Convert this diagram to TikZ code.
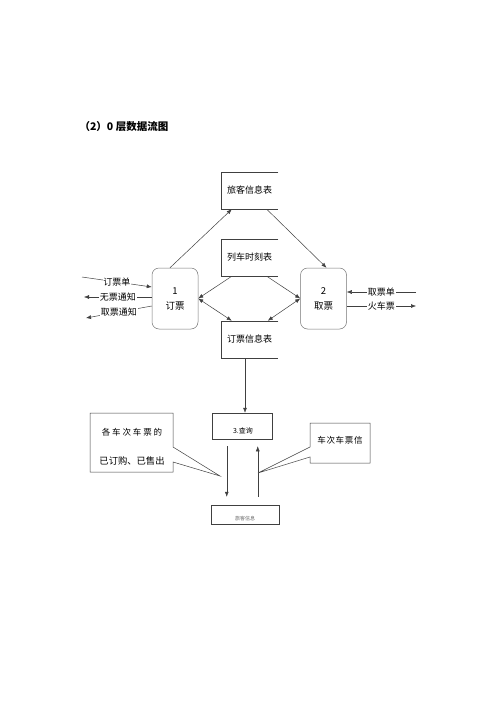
\documentclass[tikz,border=0pt]{standalone}
\usepackage{fontspec}
\newfontfamily\cjk{Noto Sans CJK SC}
\newfontfamily\cjkwide[LetterSpace=22]{Noto Sans CJK SC}
\newfontfamily\cjkmid[LetterSpace=8]{Noto Sans CJK SC}
\usetikzlibrary{arrows.meta,calc}
\begin{document}
\begin{tikzpicture}[x=1pt,y=-1pt,
  font=\cjk\fontsize{9}{11}\selectfont,
  line width=0.5pt, draw=black!75,
  >={Latex[length=5pt,width=4pt]},
  store/.style={minimum width=57pt, minimum height=37pt, inner sep=0pt},
  proc/.style={draw=black!55, rounded corners=7pt, minimum width=46pt, minimum height=61pt, align=center, inner sep=0pt, font=\cjk\fontsize{9.5}{15}\selectfont},
  lbl/.style={fill=white, inner sep=0.8pt},
  flow/.style={draw=black!75}
]
\useasboundingbox (0,0) rectangle (500,707);

\node[anchor=west, font=\cjk\bfseries\fontsize{10.5}{12}\selectfont] (title) at (76,127) {（2）0 层数据流图};

% data stores
\node[store] (s1) at (249.5,190.5) {旅客信息表};
\node[store] (s2) at (249.5,257.5) {列车时刻表};
\node[store] (s3) at (249.5,339.5) {订票信息表};
\foreach \s in {s1,s2,s3}
  \draw[flow] (\s.north east) -- (\s.north west) -- (\s.south west) -- (\s.south east);

% processes
\node[proc] (p1) at (175,298.5) {1\\订票};
\node[proc] (p2) at (323.5,298.5) {2\\取票};

% internal flows
\draw[flow,->] ($(p1.north)+(-5,0)$) -- ($(s1.south west)+(11,0)$);
\draw[flow,->] ($(s1.south west)+(46,0)$) -- ($(p2.north)+(3,0)$);
\draw[flow,->] ($(s2.south west)+(11,0)$) -- (p1.east);
\draw[flow,<->] (p1.east) -- ($(s3.north west)+(11,0)$);
\draw[flow,->] ($(s2.south west)+(46,0)$) -- (p2.west);
\draw[flow,<->] ($(s3.north west)+(47,0)$) -- (p2.west);

% external flows left
\coordinate (l1) at (82,277);
\coordinate (l2) at (84,297);
\coordinate (l3) at (86,318);
\draw[flow,->] (l1) -- node[lbl]{订票单} ($(p1.west)+(0,-11.5)$);
\draw[flow,->] ($(p1.west)+(0,-1.5)$) -- node[lbl]{无票通知} (l2);
\draw[flow,->] ($(p1.west)+(0,7.5)$) -- node[lbl]{取票通知} (l3);

% external flows right
\coordinate (r1) at (416,292);
\coordinate (r2) at (416,306);
\draw[flow,->] (r1) -- node[lbl]{取票单} ($(p2.east)+(0,-6.5)$);
\draw[flow,->] ($(p2.east)+(0,7.5)$) -- node[lbl]{火车票} (r2);

% query
\node[draw=black!75, minimum width=60pt, minimum height=26pt, inner sep=0pt] (q) at (242,426) {};
\node[font=\cjk\fontsize{7}{8}\selectfont] (qt) at (243,431) {3.查询};
\draw[flow,->] (245,358) -- (q.north -| 245,0);
\node[draw=black!75, minimum width=68pt, minimum height=19pt, inner sep=0pt] (b) at (245,514.5) {};
\node[font=\cjk\fontsize{5}{6}\selectfont, text=black!60] (bt) at (245,518.5) {旅客信息};
\draw[flow,->] ($(q.south west)+(15,7)$) -- ($(b.north west)+(16,-8)$);
\draw[flow,->] ($(b.north west)+(47,-8)$) -- ($(q.south west)+(46,7)$);

% callouts
\draw[flow, fill=white] (90,413) -- (173,413) -- (173,447) -- (220,476) -- (173,462) -- (173,472) -- (90,472) -- cycle;
\node[font=\cjkwide\fontsize{8.5}{10}\selectfont] (c1a) at (132,432) {各车次车票的};
\node[font=\cjk\fontsize{9.3}{10}\selectfont] (c1b) at (132,461) {已订购、已售出};

\draw[flow, fill=white] (310,423) -- (370,423) -- (370,463) -- (310,463) -- (310,457) -- (258,473) -- (310,447) -- cycle;
\node[font=\cjkmid\fontsize{8.5}{10}\selectfont] (c2) at (340,440) {车次车票信};
\end{tikzpicture}
\end{document}
